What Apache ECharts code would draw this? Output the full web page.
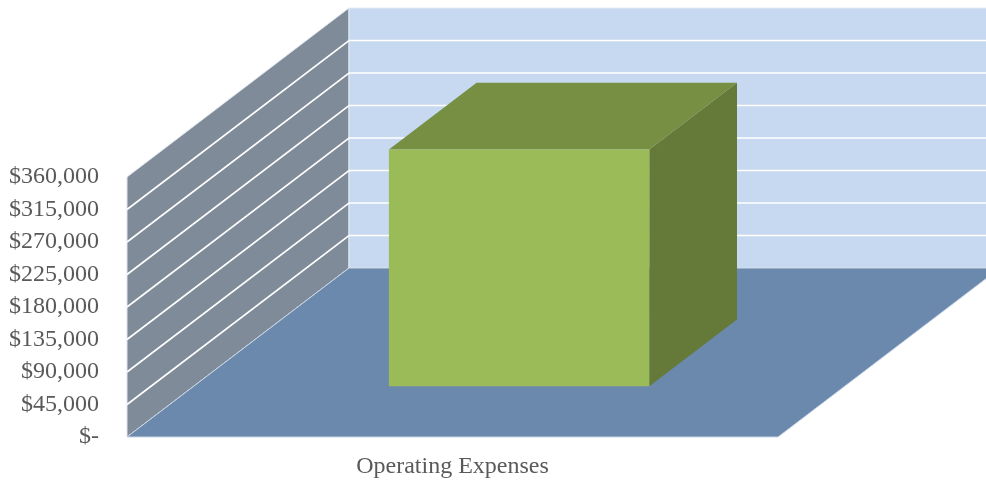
<!DOCTYPE html>
<html>
<head>
<meta charset="utf-8">
<script src="https://cdn.jsdelivr.net/npm/echarts@6/dist/echarts.min.js"></script>
<style>
  html, body { margin: 0; padding: 0; background: #ffffff; }
  #chart { width: 986px; height: 481px; }
</style>
</head>
<body>
<div id="chart"></div>
<script>
// Chart data
const categories = ['Operating Expenses'];
const expenseValues = [328000];
const tickValues = [0, 45000, 90000, 135000, 180000, 225000, 270000, 315000, 360000];

// Oblique depth of the 3D box (pixels)
const DEPTH_X = 222;
const DEPTH_Y = -169;
// Bar occupies this fraction of the depth / category band
const BAR_DEPTH_FROM = 0.3;
const BAR_DEPTH_TO = 0.695;
const BAR_WIDTH_RATIO = 0.4;

const AXIS_MIN = tickValues[0];
const AXIS_MAX = tickValues[tickValues.length - 1];

function fmtMoney(v) {
  if (v === 0) return '$-';
  return '$' + v.toLocaleString('en-US');
}

const textStyle = { color: '#595959', fontFamily: 'Liberation Serif', fontSize: 24 };

const chart = echarts.init(document.getElementById('chart'), null, { renderer: 'canvas' });

// Walls, floor and gridlines of the box
function renderBox(params, api) {
  const cs = params.coordSys;
  const x0 = cs.x, x1 = cs.x + cs.width;
  const yb = api.coord([0, AXIS_MIN])[1];
  const yt = api.coord([0, AXIS_MAX])[1];
  const children = [];

  children.push({
    type: 'polygon',
    shape: { points: [[x0, yb], [x0, yt], [x0 + DEPTH_X, yt + DEPTH_Y], [x0 + DEPTH_X, yb + DEPTH_Y]] },
    style: { fill: '#7f8b98', stroke: '#dfe6ee', lineWidth: 1 }
  });
  children.push({
    type: 'polygon',
    shape: { points: [[x0 + DEPTH_X, yt + DEPTH_Y], [x1 + DEPTH_X, yt + DEPTH_Y], [x1 + DEPTH_X, yb + DEPTH_Y], [x0 + DEPTH_X, yb + DEPTH_Y]] },
    style: { fill: '#c6d9f1', stroke: '#e3ecf7', lineWidth: 1 }
  });
  children.push({
    type: 'polygon',
    shape: { points: [[x0, yb], [x1, yb], [x1 + DEPTH_X, yb + DEPTH_Y], [x0 + DEPTH_X, yb + DEPTH_Y]] },
    style: { fill: '#6b88ad', stroke: '#c9d5e4', lineWidth: 1 }
  });

  tickValues.forEach(function (t) {
    if (t === AXIS_MIN || t === AXIS_MAX) return;
    const y = api.coord([0, t])[1];
    children.push({
      type: 'polyline',
      shape: { points: [[x0, y], [x0 + DEPTH_X, y + DEPTH_Y], [x1 + DEPTH_X, y + DEPTH_Y]] },
      style: { stroke: '#ffffff', lineWidth: 1.6, fill: null }
    });
  });

  return { type: 'group', children: children };
}

// 3D bar: front, top and side faces
function renderBar(params, api) {
  const cat = api.value(0);
  const base = api.coord([cat, 0]);
  const top = api.coord([cat, api.value(1)]);
  const band = api.size([1, 0])[0];
  const half = band * BAR_WIDTH_RATIO / 2;

  const fx = DEPTH_X * BAR_DEPTH_FROM, fy = DEPTH_Y * BAR_DEPTH_FROM;
  const bx = DEPTH_X * BAR_DEPTH_TO, by = DEPTH_Y * BAR_DEPTH_TO;

  const l = base[0] - half, r = base[0] + half;
  const yB = base[1], yT = top[1];

  const front = [[l + fx, yB + fy], [r + fx, yB + fy], [r + fx, yT + fy], [l + fx, yT + fy]];
  const topFace = [[l + fx, yT + fy], [r + fx, yT + fy], [r + bx, yT + by], [l + bx, yT + by]];
  const side = [[r + fx, yB + fy], [r + bx, yB + by], [r + bx, yT + by], [r + fx, yT + fy]];

  return {
    type: 'group',
    children: [
      { type: 'polygon', shape: { points: side }, style: { fill: '#657a39' } },
      { type: 'polygon', shape: { points: topFace }, style: { fill: '#778f42' } },
      { type: 'polygon', shape: { points: front }, style: { fill: '#9bbb59' } }
    ]
  };
}

chart.setOption({
  animation: false,
  backgroundColor: '#ffffff',
  grid: { left: 127, top: 177, width: 651, height: 260 },
  xAxis: {
    type: 'category',
    data: categories,
    axisLine: { show: false },
    axisTick: { show: false },
    splitLine: { show: false },
    axisLabel: Object.assign({ margin: 18 }, textStyle)
  },
  yAxis: {
    type: 'value',
    min: AXIS_MIN,
    max: AXIS_MAX,
    interval: 45000,
    axisLine: { show: false },
    axisTick: { show: false },
    splitLine: { show: false },
    axisLabel: Object.assign({ margin: 28, formatter: fmtMoney, padding: [4, 0, 0, 0] }, textStyle)
  },
  series: [
    {
      type: 'custom',
      name: 'box',
      clip: false,
      silent: true,
      z: 1,
      data: [[0, 0]],
      renderItem: renderBox
    },
    {
      type: 'custom',
      name: 'Operating Expenses',
      clip: false,
      z: 2,
      data: categories.map(function (c, i) { return [i, expenseValues[i]]; }),
      encode: { x: 0, y: 1 },
      renderItem: renderBar
    }
  ]
});
</script>
</body>
</html>
